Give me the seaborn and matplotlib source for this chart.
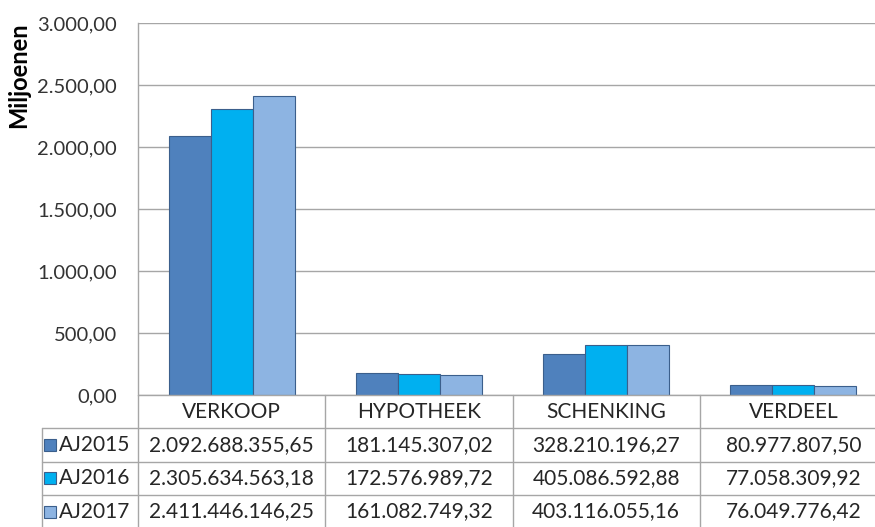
import numpy as np
import pandas as pd
import matplotlib

matplotlib.use('Agg')
import matplotlib.pyplot as plt
from matplotlib.patches import Rectangle
import seaborn as sns

categories = ['VERKOOP', 'HYPOTHEEK', 'SCHENKING', 'VERDEEL']
years = ['AJ2015', 'AJ2016', 'AJ2017']
aj2015 = [2092688355.65, 181145307.02, 328210196.27, 80977807.50]
aj2016 = [2305634563.18, 172576989.72, 405086592.88, 77058309.92]
aj2017 = [2411446146.25, 161082749.32, 403116055.16, 76049776.42]
colors = ['#4F81BD', '#00B0F0', '#8DB4E2']
y_ticks = [0, 500, 1000, 1500, 2000, 2500, 3000]


def nl(v):
    # dutch number format: 1.234,56
    s = '{:,.2f}'.format(v)
    return s.replace(',', '#').replace('.', ',').replace('#', '.')


series = [aj2015, aj2016, aj2017]
rows = []
for yr, vals in zip(years, series):
    for c, v in zip(categories, vals):
        rows.append({'categorie': c, 'jaar': yr, 'waarde': v / 1e6})
df = pd.DataFrame(rows)

sns.set_theme(style='white')
plt.rcParams['font.family'] = ['Lato', 'DejaVu Sans']

fig = plt.figure(figsize=(8.75, 5.27), dpi=100)
W, H = 875.0, 527.0
ax = fig.add_axes([138 / W, (H - 395) / H, (887 - 138) / W, (395 - 23) / H])

sns.barplot(data=df, x='categorie', y='waarde', hue='jaar', palette=colors,
            saturation=1, width=0.674, gap=0, edgecolor='#3B5F8C',
            linewidth=0.8, legend=False, ax=ax)

ax.set_xlim(-0.5, 3.5)
ax.set_ylim(0, 3000)
ax.set_yticks(y_ticks)
ax.set_yticklabels([nl(t) for t in y_ticks], fontsize=14.5, color='#333333')
ax.set_xticks([])
ax.set_xlabel('')
ax.set_ylabel('')
ax.tick_params(axis='y', length=0, pad=15)
ax.yaxis.grid(True, color='#A6A6A6', linewidth=1)
ax.set_axisbelow(True)
for s in ['top', 'right', 'bottom']:
    ax.spines[s].set_visible(False)
ax.spines['left'].set_color('#A6A6A6')
ax.spines['left'].set_linewidth(1)

fig.text(19 / W, 1 - 75 / H, 'Miljoenen', rotation=90, fontsize=17,
         fontweight='bold', color='#000000', ha='center', va='center')

# data table under the plot
tr = ax.get_xaxis_transform()
h = 33.3 / 372.0
x_leg = -0.5 - (138 - 42) / 187.0
lc = '#A6A6A6'
kw = dict(transform=tr, clip_on=False, color=lc, linewidth=1)
ax.plot([-0.5, 3.5], [0, 0], **kw)
for k in range(1, 4):
    ax.plot([x_leg, 3.5], [-k * h, -k * h], **kw)
ax.plot([x_leg, x_leg], [-h, -4 * h], **kw)
for xb in [-0.5, 0.5, 1.5, 2.5, 3.5]:
    ax.plot([xb, xb], [0, -4 * h], **kw)

for i, c in enumerate(categories):
    ax.text(i, -0.5 * h, c, transform=tr, ha='center', va='center',
            fontsize=15, color='#262626', clip_on=False)

for r, (yr, vals, col) in enumerate(zip(years, series, colors)):
    yc = -(r + 1.5) * h
    ax.add_patch(Rectangle((x_leg + 2 / 187.0, yc - 0.016), 12 / 187.0, 0.032,
                           transform=tr, clip_on=False, facecolor=col,
                           edgecolor='#3B5F8C', linewidth=0.8))
    ax.text(x_leg + 17 / 187.0, yc, yr, transform=tr, ha='left', va='center',
            fontsize=15, color='#262626', clip_on=False)
    for i, v in enumerate(vals):
        ax.text(i, yc, nl(v), transform=tr, ha='center', va='center',
                fontsize=15, color='#262626', clip_on=False)

fig.savefig('out.png', dpi=100, facecolor='white')
